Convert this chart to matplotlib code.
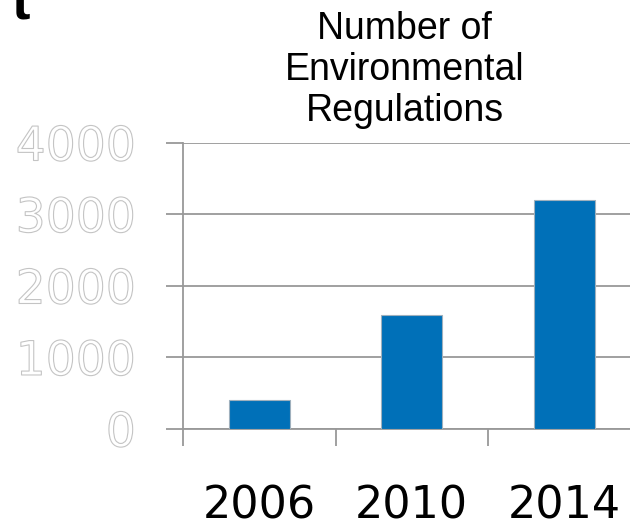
# Bar chart: number of environmental regulations by year

import matplotlib
matplotlib.use("Agg")
import matplotlib.pyplot as plt
import matplotlib.patheffects as pe

# Data
years = ['2006', '2010', '2014']
regulations = [400, 1600, 3200]
y_ticks = [0, 1000, 2000, 3000, 4000]

bar_color = '#0070B8'
grid_color = '#999999'

fig = plt.figure(figsize=(6.3, 5.3), dpi=100)
ax = fig.add_axes([0.2905, 0.1906, 0.7262, 0.5396])

ax.bar(range(len(years)), regulations, width=0.4, color=bar_color,
       edgecolor='#9fb0bd', linewidth=0.8, zorder=3)

ax.set_xlim(-0.5, len(years) - 0.5)
ax.set_ylim(0, 4000)

# gridlines and axis styling
ax.set_yticks(y_ticks)
ax.yaxis.grid(True, color=grid_color, linewidth=1.3, zorder=0)
for side in ['top', 'right']:
    ax.spines[side].set_visible(False)
for side in ['left', 'bottom']:
    ax.spines[side].set_color(grid_color)
    ax.spines[side].set_linewidth(1.3)

# category labels at centres, tick marks at category boundaries
ax.set_xticks(range(len(years)))
ax.set_xticklabels(years)
ax.set_xticks([i - 0.5 for i in range(len(years) + 1)], minor=True)
ax.tick_params(axis='x', which='major', length=0, pad=40, labelsize=32, labelcolor='black')
ax.tick_params(axis='x', which='minor', length=12, width=1.3, color=grid_color, direction='out')
ax.tick_params(axis='y', length=12, width=1.3, color=grid_color, direction='out', pad=22, labelsize=34)

# hollow (outlined) y tick labels
for lbl in ax.get_yticklabels():
    lbl.set_color('white')
    lbl.set_path_effects([pe.Stroke(linewidth=0.8, foreground='#c4c4c4')])

fig.text(0.642, 1 - 11 / 530, 'Number of\nEnvironmental\nRegulations', ha='center', va='top',
         fontsize=27, family='Liberation Sans', linespacing=1.17)

# piece of cropped text in the upper left corner
fig.text(0.018, 1 - 19 / 530, 't', ha='left', va='baseline', fontsize=40,
         fontweight='bold', family='Liberation Sans')

fig.savefig('out.png', dpi=100)
